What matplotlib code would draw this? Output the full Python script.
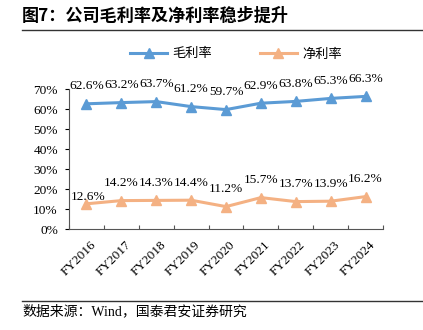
import matplotlib
matplotlib.use("Agg")
import matplotlib.pyplot as plt
from matplotlib.lines import Line2D

years = ["FY2016", "FY2017", "FY2018", "FY2019", "FY2020", "FY2021", "FY2022", "FY2023", "FY2024"]
gross_margin = [62.6, 63.2, 63.7, 61.2, 59.7, 62.9, 63.8, 65.3, 66.3]
net_margin = [12.6, 14.2, 14.3, 14.4, 11.2, 15.7, 13.7, 13.9, 16.2]
y_ticks = [0, 10, 20, 30, 40, 50, 60, 70]

series_names = ["毛利率", "净利率"]
title_text = "图7：公司毛利率及净利率稳步提升"
source_text = "数据来源：Wind，国泰君安证券研究"

BLUE = "#5B9BD5"
ORANGE = "#F4B183"
SERIF = ["Liberation Serif", "Noto Sans CJK SC"]
CJK = ["Noto Sans CJK SC", "DejaVu Sans"]
FS = 9.6

W, H = 423, 330
fig = plt.figure(figsize=(W / 100, H / 100), dpi=100)

def fx(px):
    return px / W

def fy(py):
    return 1 - py / H

left, right, top, bottom = 69, 383, 89, 229
ax = fig.add_axes([fx(left), fy(bottom), fx(right - left), (bottom - top) / H])

x = list(range(len(years)))
ax.plot(x, gross_margin, color=BLUE, lw=2.2, marker="^", ms=6.5, mec=BLUE, mfc=BLUE)
ax.plot(x, net_margin, color=ORANGE, lw=2.2, marker="^", ms=6.5, mec=ORANGE, mfc=ORANGE)

ax.set_xlim(-0.5, len(years) - 0.5)
ax.set_ylim(0, 70)
ax.set_yticks(y_ticks)
ax.set_yticklabels([f"{v}%" for v in y_ticks], fontfamily=SERIF, fontsize=FS)
ax.tick_params(axis="y", direction="out", length=3, width=0.8, pad=5)

ax.set_xticks([i - 0.5 for i in range(len(years) + 1)])
ax.set_xticklabels([])
ax.tick_params(axis="x", direction="in", length=3, width=0.8, color="#555555")
for i, yr in enumerate(years):
    ax.annotate(yr, xy=(i, 0), xycoords=("data", "data"), xytext=(2.5, -7),
                textcoords="offset points", rotation=45, ha="right", va="top",
                rotation_mode="anchor", fontfamily=SERIF, fontsize=FS)

for s in ["top", "right"]:
    ax.spines[s].set_visible(False)
for s in ["left", "bottom"]:
    ax.spines[s].set_color("#555555")
    ax.spines[s].set_linewidth(0.8)

for i, v in enumerate(gross_margin):
    ax.annotate(f"{v:.1f}%", xy=(i, v), xytext=(0, 12.5), textcoords="offset points",
                ha="center", va="center", fontfamily=SERIF, fontsize=FS)
net_offsets = [(1.5, 5), (0, 12.5), (0, 12.5), (0, 12.5), (0, 12.5), (0, 12.5), (0, 12.5), (0, 12.5), (0, 12.5)]
for i, v in enumerate(net_margin):
    ax.annotate(f"{v:.1f}%", xy=(i, v), xytext=net_offsets[i], textcoords="offset points",
                ha="center", va="center", fontfamily=SERIF, fontsize=FS)

handles = [Line2D([0], [0], color=BLUE, lw=2.2, marker="^", ms=6.5),
           Line2D([0], [0], color=ORANGE, lw=2.2, marker="^", ms=6.5)]
fig.legend(handles, series_names, loc="center", bbox_to_anchor=(fx(236), fy(54)),
           ncol=2, frameon=False, prop={"family": CJK, "size": 9.5},
           handlelength=2.8, handletextpad=0.4, columnspacing=3.6)

fig.text(fx(22), fy(16), title_text, fontfamily=CJK, fontweight="bold", fontsize=12.3,
         ha="left", va="center")
fig.add_artist(Line2D([fx(22), fx(423)], [fy(30), fy(30)], color="#333333", lw=1.0))
fig.add_artist(Line2D([fx(22), fx(423)], [fy(301), fy(301)], color="#333333", lw=1.0))
fig.text(fx(22), fy(311), source_text, fontfamily=SERIF, fontsize=10, ha="left", va="center")

fig.savefig("out.png", dpi=100)
